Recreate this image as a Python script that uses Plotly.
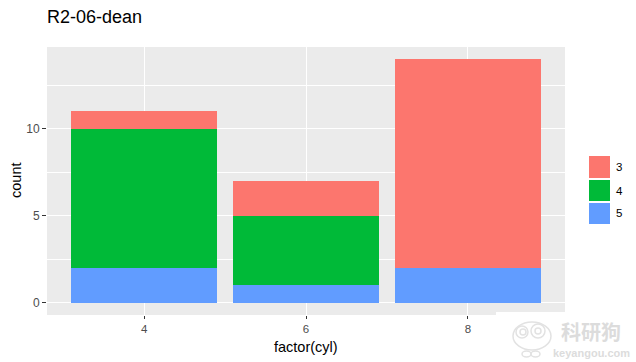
import plotly.graph_objects as go

title = "R2-06-dean"
x_title = "factor(cyl)"
y_title = "count"
categories = ["4", "6", "8"]
gear_labels = ["5", "4", "3"]
gear_5 = [2, 1, 2]
gear_4 = [8, 4, 0]
gear_3 = [1, 2, 12]
series = [gear_5, gear_4, gear_3]
colors = ["#619CFF", "#00BA38", "#FC766E"]
y_ticks = [0, 5, 10]

W, H = 636, 362
L, R, T, B = 47, 565, 47, 315


def px(x):
    return x / W


def py(y):
    return 1 - y / H


def fx(x):
    return (x - L) / (R - L)


def fy(y):
    return (B - y) / (B - T)


fig = go.Figure()
for name, vals, col in zip(gear_labels, series, colors):
    fig.add_bar(x=categories, y=vals, name=name, width=0.9,
                marker=dict(color=col, line=dict(width=0)),
                showlegend=False)

shapes = []
annots = []
# legend keys (top to bottom: 3, 4, 5)
key_tops = [156, 180, 203]
key_hs = [22, 21, 21]
for lab, col, top, h in zip(gear_labels[::-1], colors[::-1], key_tops, key_hs):
    shapes.append(dict(type="rect", xref="paper", yref="paper", layer="above",
                       x0=fx(589), x1=fx(610), y0=fy(top + h), y1=fy(top),
                       fillcolor=col, line=dict(width=0)))
    annots.append(dict(xref="paper", yref="paper", x=fx(614), y=fy(top + h / 2),
                       text=lab, showarrow=False, xanchor="left", yanchor="middle",
                       font=dict(size=11.5, color="#000000")))

# notch in the panel's lower edge, as in the reference
shapes.append(dict(type="rect", xref="paper", yref="paper", layer="above",
                   x0=fx(496), x1=1, y0=0, y1=fy(312),
                   fillcolor="#FFFFFF", line=dict(width=0)))

# axis titles
annots.append(dict(xref="paper", yref="paper", x=fx(306), y=fy(347), text=x_title, showarrow=False,
                   xanchor="center", yanchor="middle", font=dict(size=14.5, color="#000000")))
annots.append(dict(xref="paper", yref="paper", x=fx(16), y=fy(181), text=y_title, showarrow=False, textangle=-90,
                   xanchor="center", yanchor="middle", font=dict(size=14.5, color="#000000")))

# watermark: mascot outline and text
wm = "#E2E2E2"
for x0, x1, y0, y1 in [(513, 551, 322, 350), (516, 528, 326, 338), (531, 545, 324, 338),
                       (520, 526, 329, 335), (535, 541, 328, 334), (522, 531, 351, 357), (531, 540, 351, 357)]:
    shapes.append(dict(type="circle", xref="paper", yref="paper", layer="above",
                       x0=fx(x0), x1=fx(x1), y0=fy(y1), y1=fy(y0),
                       fillcolor="rgba(0,0,0,0)", line=dict(width=1.5, color=wm)))
annots.append(dict(xref="paper", yref="paper", x=fx(591), y=fy(331),
                   text="<b>科研狗</b>", showarrow=False, xanchor="center", yanchor="middle",
                   font=dict(size=20, color="#DCDCDC", family="Noto Sans CJK SC")))
annots.append(dict(xref="paper", yref="paper", x=fx(591), y=fy(353),
                   text="<b>keyangou.com</b>", showarrow=False, xanchor="center", yanchor="middle",
                   font=dict(size=11, color="#DCDCDC")))

fig.update_layout(
    width=W, height=H, autosize=False, barmode="stack", bargap=0.1,
    margin=dict(l=L, r=W - R, t=T, b=H - B, pad=0),
    paper_bgcolor="#FFFFFF", plot_bgcolor="#EBEBEB",
    font=dict(family="Liberation Sans, Arial, sans-serif", size=11, color="#000000"),
    title=dict(text=title, x=px(47), xanchor="left", y=py(17), yanchor="middle",
               font=dict(size=18, color="#000000")),
    shapes=shapes, annotations=annots, showlegend=False,
    xaxis=dict(type="category", range=[-0.6, 2.6], showgrid=True, gridcolor="#FFFFFF", gridwidth=1,
               automargin=False,
               zeroline=False, showline=False, ticks="outside", ticklen=3, tickwidth=1, tickcolor="#333333",
               tickfont=dict(size=11.5, color="#4D4D4D")),
    yaxis=dict(range=[-0.7, 14.7], tickvals=y_ticks, showgrid=True, gridcolor="#FFFFFF", gridwidth=1,
               automargin=False,
               minor=dict(dtick=2.5, tick0=0, showgrid=True, gridcolor="#FFFFFF", gridwidth=0.6, ticks=""),
               zeroline=False, showline=False, ticks="outside", ticklen=4, tickwidth=1, tickcolor="#333333",
               tickfont=dict(size=12, color="#4D4D4D")),
)
fig.write_html("out.html", config=dict(displayModeBar=False),
               post_script="document.body.style.margin='0';")
